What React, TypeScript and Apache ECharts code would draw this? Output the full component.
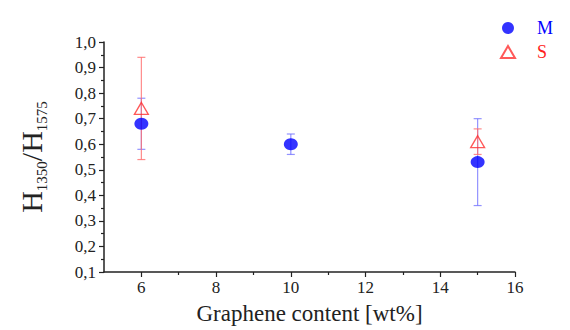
import React, { useEffect, useRef } from "react";
import * as echarts from "echarts";

const xM = [6, 10, 15];
const yM = [0.68, 0.6, 0.53];
const errMLow = [0.58, 0.56, 0.36];
const errMHigh = [0.78, 0.64, 0.7];

const xS = [6, 15];
const yS = [0.74, 0.61];
const errSLow = [0.54, 0.56];
const errSHigh = [0.94, 0.66];

const xMajorTicks = [6, 8, 10, 12, 14, 16];
const xMinorTicks = [7, 9, 11, 13, 15];

const FONT = "Liberation Serif";

function errorBars(name: string, xs: number[], lo: number[], hi: number[], color: string) {
  return {
    type: "custom",
    name,
    z: 1,
    silent: true,
    data: xs.map((x, i) => [x, lo[i], hi[i]]),
    encode: { x: 0, y: [1, 2] },
    renderItem: (params: any, api: any) => {
      const x = api.value(0);
      const top = api.coord([x, api.value(2)]);
      const bot = api.coord([x, api.value(1)]);
      const hw = 4;
      const style = { stroke: color, lineWidth: 1.2 };
      return {
        type: "group",
        children: [
          { type: "line", shape: { x1: top[0], y1: top[1], x2: bot[0], y2: bot[1] }, style },
          { type: "line", shape: { x1: top[0] - hw, y1: top[1], x2: top[0] + hw, y2: top[1] }, style },
          { type: "line", shape: { x1: bot[0] - hw, y1: bot[1], x2: bot[0] + hw, y2: bot[1] }, style },
        ],
      };
    },
  };
}

export default function App() {
  const ref = useRef<HTMLDivElement>(null);
  useEffect(() => {
    if (!ref.current) return;
    const chart = echarts.init(ref.current, undefined, { renderer: "svg" });
    const axisLine = { show: true, lineStyle: { color: "#222", width: 1.5 } };
    const legendText = (color: string) => ({ color, fontFamily: FONT, fontSize: 18, padding: [0, 0, 0, 17] });
    chart.setOption({
      animation: false,
      backgroundColor: "#fff",
      textStyle: { fontFamily: FONT },
      grid: { left: 104, right: 55, top: 42, bottom: 52 },
      legend: {
        orient: "vertical",
        right: 12,
        top: 14,
        itemWidth: 14,
        itemHeight: 12,
        itemGap: 6,
        textStyle: legendText("#222"),
        data: [
          { name: "M", textStyle: legendText("#0000ff") },
          { name: "S", textStyle: legendText("#ff2020") },
        ],
      },
      xAxis: [
        {
          type: "value",
          min: 5,
          max: 16,
          name: "Graphene content [wt%]",
          nameLocation: "middle",
          nameGap: 30,
          nameTextStyle: { fontFamily: FONT, fontSize: 23, color: "#222" },
          axisLine,
          splitLine: { show: false },
          axisTick: { show: true, customValues: xMajorTicks, length: 5, lineStyle: { color: "#222", width: 1.2 } },
          axisLabel: { customValues: xMajorTicks, fontFamily: FONT, fontSize: 17, color: "#222", margin: 7 },
        },
        {
          type: "value",
          min: 5,
          max: 16,
          position: "bottom",
          axisLine: { show: false },
          splitLine: { show: false },
          axisTick: { show: true, customValues: xMinorTicks, length: 3, lineStyle: { color: "#222", width: 1.2 } },
          axisLabel: { show: false },
        },
      ],
      yAxis: {
        type: "value",
        min: 0.1,
        max: 1.0,
        interval: 0.1,
        name: "{h|H}{s|1350}{h|/H}{s|1575}",
        nameLocation: "middle",
        nameRotate: 90,
        nameGap: 58,
        nameTextStyle: {
          color: "#222",
          rich: {
            h: { fontFamily: FONT, fontSize: 30, color: "#222" },
            s: { fontFamily: FONT, fontSize: 15, color: "#222", verticalAlign: "bottom", padding: [0, 0, -3, 0] },
          },
        },
        axisLine,
        splitLine: { show: false },
        axisTick: { show: true, length: 5, lineStyle: { color: "#222", width: 1.2 } },
        minorTick: { show: true, splitNumber: 2, length: 3, lineStyle: { color: "#222", width: 1.2 } },
        axisLabel: {
          fontFamily: FONT,
          fontSize: 17,
          color: "#222",
          margin: 8,
          formatter: (v: number) => v.toFixed(1).replace(".", ","),
        },
      },
      series: [
        errorBars("errM", xM, errMLow, errMHigh, "rgba(110,110,255,0.75)"),
        errorBars("errS", xS, errSLow, errSHigh, "rgba(255,110,110,0.8)"),
        {
          type: "scatter",
          name: "M",
          z: 3,
          symbol: "circle",
          symbolSize: [14, 12],
          itemStyle: { color: "#0000ff" },
          data: xM.map((x, i) => [x, yM[i]]),
        },
        {
          type: "scatter",
          name: "S",
          z: 4,
          symbol: "triangle",
          symbolSize: [14, 12],
          itemStyle: { color: "rgba(255,255,255,0)", borderColor: "#ff3030", borderWidth: 1.3 },
          data: xS.map((x, i) => [x, yS[i]]),
        },
      ],
    });
    return () => chart.dispose();
  }, []);
  return <div ref={ref} style={{ width: 570, height: 330, position: "absolute", left: 0, top: 0 }} />;
}
